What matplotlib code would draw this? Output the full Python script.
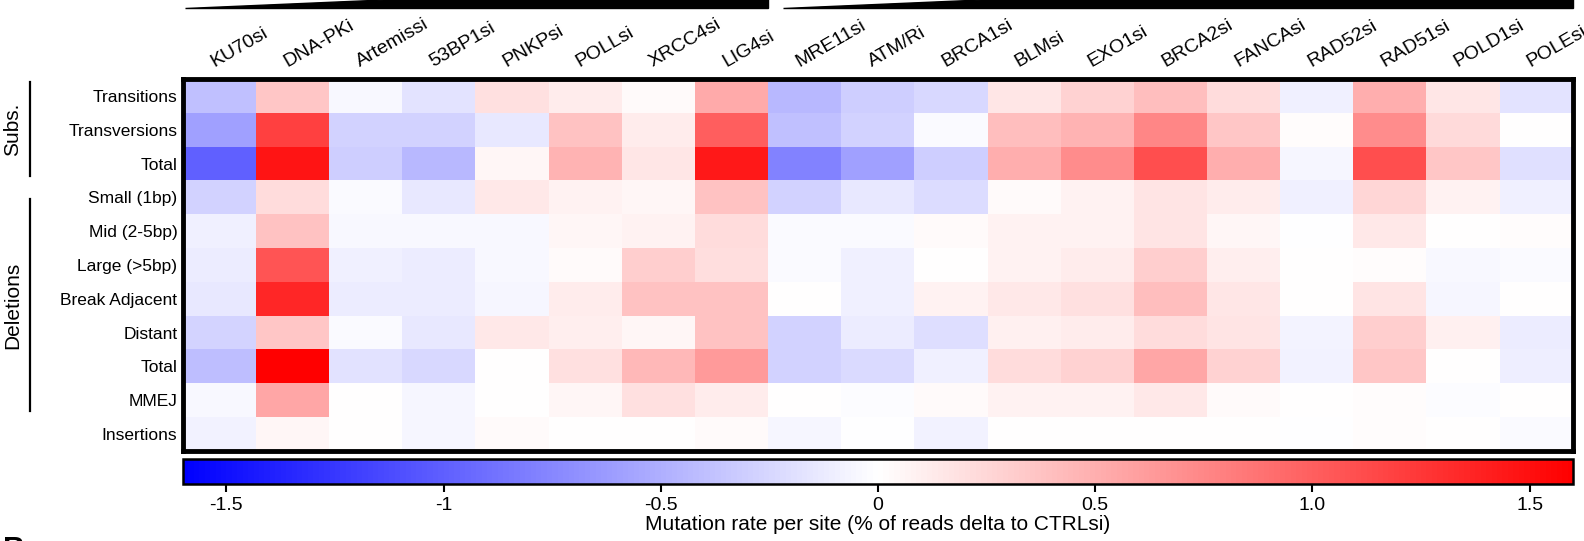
import numpy as np
import matplotlib
matplotlib.use("Agg")
import matplotlib.pyplot as plt
from matplotlib.patches import Polygon
from matplotlib.lines import Line2D

plt.rcParams['font.family'] = ['Liberation Sans', 'DejaVu Sans']

# knockdowns / inhibitors (columns)
conditions = ["KU70si", "DNA-PKi", "Artemissi", "53BP1si", "PNKPsi", "POLLsi",
              "XRCC4si", "LIG4si", "MRE11si", "ATM/Ri", "BRCA1si", "BLMsi",
              "EXO1si", "BRCA2si", "FANCAsi", "RAD52si", "RAD51si", "POLD1si",
              "POLEsi"]

# mutation classes (rows)
classes = ["Transitions", "Transversions", "Total", "Small (1bp)", "Mid (2-5bp)",
           "Large (>5bp)", "Break Adjacent", "Distant", "Total", "MMEJ",
           "Insertions"]

# delta mutation rate per site, one list per row
transitions   = [-0.40, 0.35, -0.04, -0.17, 0.19, 0.12, 0.03, 0.53, -0.44, -0.31,
                 -0.25, 0.16, 0.28, 0.41, 0.22, -0.10, 0.50, 0.16, -0.17]
transversions = [-0.60, 1.19, -0.28, -0.28, -0.14, 0.38, 0.12, 1.00, -0.40, -0.28,
                 -0.03, 0.41, 0.47, 0.75, 0.35, 0.02, 0.72, 0.23, 0.00]
subs_total    = [-1.00, 1.47, -0.31, -0.44, 0.05, 0.47, 0.16, 1.44, -0.78, -0.60,
                 -0.31, 0.50, 0.72, 1.10, 0.50, -0.06, 1.10, 0.35, -0.19]
small_1bp     = [-0.28, 0.22, -0.03, -0.14, 0.14, 0.08, 0.05, 0.38, -0.28, -0.14,
                 -0.22, 0.03, 0.08, 0.17, 0.12, -0.10, 0.25, 0.08, -0.10]
mid_2_5bp     = [-0.09, 0.38, -0.04, -0.04, -0.04, 0.06, 0.08, 0.22, -0.03, -0.03,
                 0.03, 0.08, 0.08, 0.17, 0.06, -0.01, 0.14, 0.00, 0.02]
large_5bp     = [-0.12, 1.07, -0.10, -0.12, -0.04, 0.03, 0.31, 0.21, -0.03, -0.09,
                 0.00, 0.08, 0.12, 0.31, 0.11, 0.00, 0.02, -0.04, -0.03]
break_adj     = [-0.15, 1.35, -0.12, -0.12, -0.06, 0.12, 0.38, 0.38, 0.00, -0.09,
                 0.08, 0.14, 0.19, 0.41, 0.16, 0.00, 0.17, -0.06, 0.00]
distant       = [-0.27, 0.35, -0.03, -0.15, 0.14, 0.11, 0.06, 0.38, -0.28, -0.12,
                 -0.21, 0.09, 0.12, 0.22, 0.17, -0.07, 0.31, 0.09, -0.12]
del_total     = [-0.41, 1.60, -0.18, -0.25, 0.00, 0.19, 0.44, 0.63, -0.28, -0.23,
                 -0.09, 0.22, 0.28, 0.56, 0.28, -0.08, 0.35, 0.00, -0.11]
mmej          = [-0.04, 0.56, 0.00, -0.06, 0.00, 0.05, 0.19, 0.12, 0.00, -0.02,
                 0.03, 0.08, 0.08, 0.14, 0.03, 0.00, 0.02, -0.02, 0.00]
insertions    = [-0.08, 0.06, 0.00, -0.06, 0.03, 0.00, 0.00, 0.03, -0.06, -0.01,
                 -0.08, 0.00, 0.00, 0.00, 0.01, -0.01, 0.02, 0.01, -0.03]

cbar_ticks = [-1.5, -1, -0.5, 0, 0.5, 1.0, 1.5]
cbar_ticklabels = ["-1.5", "-1", "-0.5", "0", "0.5", "1.0", "1.5"]

data = np.array([transitions, transversions, subs_total, small_1bp, mid_2_5bp,
                 large_5bp, break_adj, distant, del_total, mmej, insertions])

W, H = 1584, 541
fig = plt.figure(figsize=(W / 100, H / 100), dpi=100)


def fx(px):
    return px / W


def fy(py):
    return 1 - py / H


# heatmap
ax = fig.add_axes([fx(183), fy(451), fx(1573) - fx(183), fy(79) - fy(451)])
im = ax.imshow(data, cmap="bwr", vmin=-1.6, vmax=1.6, aspect="auto",
               interpolation="nearest")
for s in ax.spines.values():
    s.set_linewidth(3.5)
ax.set_yticks(range(len(classes)))
ax.set_yticklabels(classes, fontsize=12.5)
ax.xaxis.tick_top()
ax.set_xticks(np.arange(len(conditions)) - 0.05)
ax.set_xticklabels(conditions, fontsize=14, rotation=30, ha="left",
                   va="bottom", rotation_mode="anchor")
ax.tick_params(length=0, pad=4)
ax.tick_params(axis="x", pad=6)

# colorbar
cax = fig.add_axes([fx(183), fy(484), fx(1573) - fx(183), fy(459) - fy(484)])
cb = fig.colorbar(im, cax=cax, orientation="horizontal")
cb.outline.set_linewidth(1.8)
cb.set_ticks(cbar_ticks)
cb.set_ticklabels(cbar_ticklabels)
cax.tick_params(labelsize=14, length=6, width=1.5, direction="out", pad=3)
cb.set_label("Mutation rate per site (% of reads delta to CTRLsi)", fontsize=15,
             labelpad=1)

# group brackets on the left
fig.add_artist(Line2D([fx(30), fx(30)], [fy(82), fy(176)], color="black", lw=1.6))
fig.add_artist(Line2D([fx(30), fx(30)], [fy(199), fy(411)], color="black", lw=1.6))
fig.text(fx(13), fy(129), "Subs.", rotation=90, ha="center", va="center", fontsize=15)
fig.text(fx(13), fy(305), "Deletions", rotation=90, ha="center", va="center", fontsize=15)

# wedges above the column labels
fig.add_artist(Polygon([(fx(185), fy(8)), (fx(768), fy(8)), (fx(768), fy(-17))],
                       closed=True, color="black", transform=fig.transFigure))
fig.add_artist(Polygon([(fx(783), fy(8)), (fx(1573), fy(8)), (fx(1573), fy(-26))],
                       closed=True, color="black", transform=fig.transFigure))

# next panel letter, cut by the bottom edge
fig.text(fx(3), fy(536), "B", fontsize=22, fontweight="bold", ha="left", va="top")

fig.savefig("out.png", dpi=100)
